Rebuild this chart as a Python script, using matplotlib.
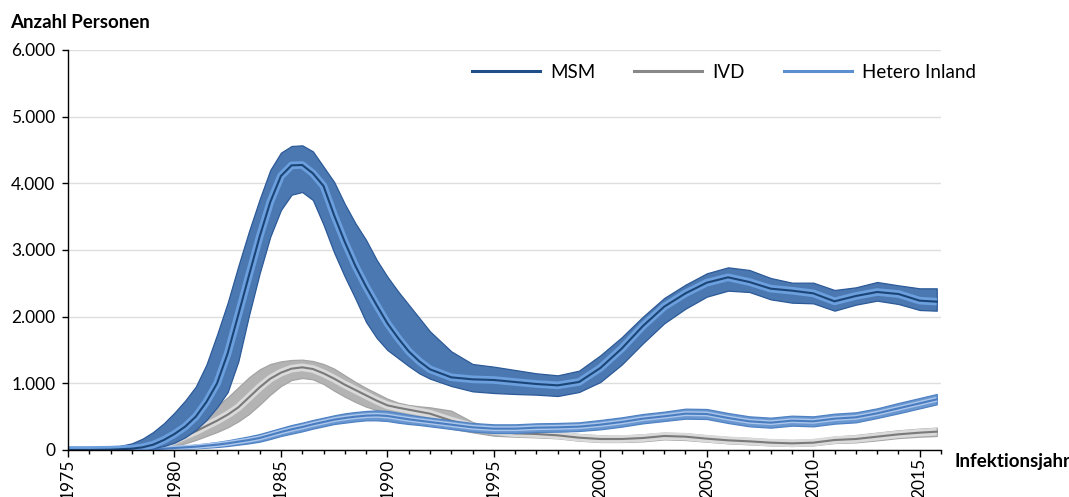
import matplotlib
matplotlib.use("Agg")
import matplotlib.pyplot as plt
from matplotlib.ticker import MultipleLocator, FuncFormatter
from matplotlib.lines import Line2D

plt.rcParams['font.family'] = ['Lato', 'DejaVu Sans']

# ---- data ----
years = [1975, 1976, 1977, 1978, 1978.5, 1979, 1979.5, 1980, 1980.5, 1981, 1981.5,
         1982, 1982.5, 1983, 1983.5, 1984, 1984.5, 1985, 1985.5, 1986, 1986.5,
         1987, 1987.5, 1988, 1988.5, 1989, 1989.5, 1990, 1990.5, 1991, 1991.5,
         1992, 1993, 1994, 1995, 1996, 1997, 1998, 1999, 2000, 2001, 2002, 2003,
         2004, 2005, 2006, 2007, 2008, 2009, 2010, 2011, 2012, 2013, 2014, 2015, 2015.8]

msm_mid = [0, 0, 5, 20, 40, 80, 150, 240, 350, 500, 720, 1000, 1450, 2030,
           2620, 3200, 3720, 4110, 4270, 4275, 4150, 3960, 3520, 3120,
           2760, 2450, 2170, 1900, 1680, 1480, 1330, 1210,
           1090, 1060, 1050, 1020, 990, 970, 1020, 1230, 1520, 1860,
           2150, 2350, 2510, 2590, 2520, 2420, 2390, 2350, 2230, 2310,
           2370, 2340, 2240, 2225]
msm_hi = [0, 5, 30, 100, 170, 270, 400, 560, 740, 950, 1280, 1730, 2210, 2760,
          3280, 3760, 4200, 4460, 4560, 4570, 4480, 4250, 4020, 3690,
          3400, 3150, 2850, 2600, 2380, 2180, 1980, 1780,
          1480, 1290, 1250, 1200, 1150, 1120, 1190, 1420, 1690, 2000,
          2280, 2480, 2650, 2740, 2700, 2580, 2510, 2510, 2400, 2440,
          2520, 2470, 2425, 2425]
msm_lo = [0, 0, 0, 5, 15, 30, 60, 110, 190, 300, 450, 640, 870, 1330,
          2020, 2650, 3200, 3600, 3830, 3870, 3750, 3380, 2960, 2600,
          2270, 1920, 1680, 1500, 1380, 1260, 1150, 1070,
          960, 880, 855, 840, 830, 810, 870, 1020, 1280, 1600,
          1900, 2120, 2300, 2390, 2370, 2260, 2210, 2200, 2090, 2180,
          2240, 2190, 2100, 2090]

ivd_mid = [0, 0, 0, 5, 15, 40, 80, 140, 210, 280, 360, 440, 530, 640,
           790, 940, 1070, 1160, 1220, 1240, 1215, 1150, 1070, 980,
           900, 820, 740, 670, 635, 605, 575, 545,
           440, 350, 285, 250, 240, 220, 185, 165, 165, 180,
           210, 200, 170, 145, 130, 110, 100, 110, 150, 165,
           200, 235, 260, 275]
ivd_hi = [0, 0, 5, 25, 50, 100, 160, 240, 330, 430, 540, 660, 790, 940,
          1090, 1210, 1290, 1330, 1350, 1355, 1335, 1290, 1220, 1120,
          1020, 930, 850, 770, 710, 675, 655, 640,
          590, 420, 330, 305, 295, 270, 240, 220, 215, 235,
          260, 250, 220, 195, 180, 160, 150, 160, 200, 225,
          260, 295, 320, 335]
ivd_lo = [0, 0, 0, 0, 5, 15, 35, 65, 100, 150, 210, 270, 340, 430,
          540, 680, 830, 960, 1050, 1080, 1060, 990, 890, 800,
          720, 650, 600, 560, 520, 480, 445, 400,
          320, 265, 215, 200, 190, 175, 140, 120, 120, 130,
          160, 150, 125, 100, 85, 70, 60, 70, 105, 115,
          145, 180, 200, 210]

het_mid = [0, 0, 0, 0, 5, 10, 20, 30, 40, 50, 65, 80, 100, 125,
           150, 180, 225, 270, 310, 345, 385, 420, 455, 480,
           500, 515, 520, 510, 485, 460, 440, 420,
           380, 340, 320, 320, 335, 340, 350, 380, 420, 470,
           505, 545, 540, 480, 430, 410, 440, 430, 470, 490,
           550, 625, 700, 760]
het_hi = [0, 0, 0, 5, 10, 20, 35, 50, 65, 80, 100, 120, 145, 175,
          205, 240, 285, 330, 375, 410, 450, 485, 520, 550,
          570, 585, 595, 585, 560, 530, 505, 485,
          445, 405, 385, 385, 400, 405, 415, 450, 490, 540,
          575, 620, 615, 555, 505, 485, 515, 505, 545, 565,
          625, 705, 780, 840]
het_lo = [0, 0, 0, 0, 0, 0, 5, 10, 18, 25, 35, 45, 60, 80,
          100, 125, 165, 210, 245, 280, 320, 355, 390, 410,
          430, 445, 445, 435, 410, 390, 375, 355,
          315, 275, 255, 255, 270, 275, 285, 310, 350, 400,
          435, 470, 465, 405, 355, 335, 365, 355, 395, 415,
          480, 550, 625, 685]

series_names = ["MSM", "IVD", "Hetero Inland"]
y_ticks = [0, 1000, 2000, 3000, 4000, 5000, 6000]
x_major = [1975, 1980, 1985, 1990, 1995, 2000, 2005, 2010, 2015]

# ---- styles ----
styles = {
    "IVD": dict(fill="#b3b3b3", edge="#a4a4a4", light="#dadada", mid="#7a7a7a", lw_light=5.5, leg="#888888"),
    "Hetero Inland": dict(fill="#6a97d0", edge="#4f82c4", light="#abc7ec", mid="#4a7cc0", lw_light=3.5, leg="#5b8fd0"),
    "MSM": dict(fill="#4b78b0", edge="#2c5a98", light="#6b9fdd", mid="#1c4577", lw_light=5.5, leg="#1f4e88"),
}
data = {
    "MSM": (msm_lo, msm_mid, msm_hi),
    "IVD": (ivd_lo, ivd_mid, ivd_hi),
    "Hetero Inland": (het_lo, het_mid, het_hi),
}

W, H = 1069, 497
fig = plt.figure(figsize=(W / 100, H / 100), dpi=100)
ax = fig.add_axes([68 / W, 1 - 450 / H, (941 - 68) / W, 400 / H])

z = 2
for name in ["IVD", "Hetero Inland", "MSM"]:
    lo, mid, hi = data[name]
    st = styles[name]
    ax.fill_between(years, lo, hi, facecolor=st["fill"], edgecolor=st["edge"], linewidth=0.9, zorder=z)
    ax.plot(years, mid, color=st["light"], lw=st["lw_light"], solid_capstyle="butt",
            solid_joinstyle="round", zorder=z + 0.1)
    ax.plot(years, mid, color=st["mid"], lw=1.5, solid_joinstyle="round", zorder=z + 0.2)
    z += 1

ax.set_xlim(1975, 2016)
ax.set_ylim(0, 6000)
ax.set_yticks(y_ticks)
ax.yaxis.set_major_formatter(FuncFormatter(lambda v, p: f"{int(v):,}".replace(",", ".")))
ax.set_xticks(x_major)
ax.xaxis.set_minor_locator(MultipleLocator(1))
ax.set_xticklabels([str(y) for y in x_major], rotation=90, va="top", ha="center", fontsize=12.5)

ax.grid(axis="y", color="#dedede", lw=1.0, zorder=0)
ax.set_axisbelow(True)
for s in ["top", "right"]:
    ax.spines[s].set_visible(False)
for s in ["left", "bottom"]:
    ax.spines[s].set_color("black")
    ax.spines[s].set_linewidth(1.0)
    ax.spines[s].set_zorder(10)

ax.tick_params(axis="y", length=4, width=1, pad=5, labelsize=12.5, colors="black")
ax.tick_params(axis="x", which="major", length=5, width=1, pad=1)
ax.tick_params(axis="x", which="minor", length=3, width=1)

fig.text(10 / W, 1 - 22 / H, "Anzahl Personen", fontsize=13.5, fontweight="bold", va="center", ha="left")
fig.text(955 / W, 1 - 462 / H, "Infektionsjahr", fontsize=13.5, fontweight="bold", va="center", ha="left")

handles = [Line2D([], [], color=styles[n]["leg"], lw=2.2) for n in series_names]
fig.legend(handles, series_names, loc="center left", bbox_to_anchor=(472 / W, 1 - 72 / H),
           ncol=3, frameon=False, fontsize=13.5, handlelength=3.6, handletextpad=0.55,
           columnspacing=2.1, borderpad=0, borderaxespad=0)

fig.savefig("out.png", dpi=100)
